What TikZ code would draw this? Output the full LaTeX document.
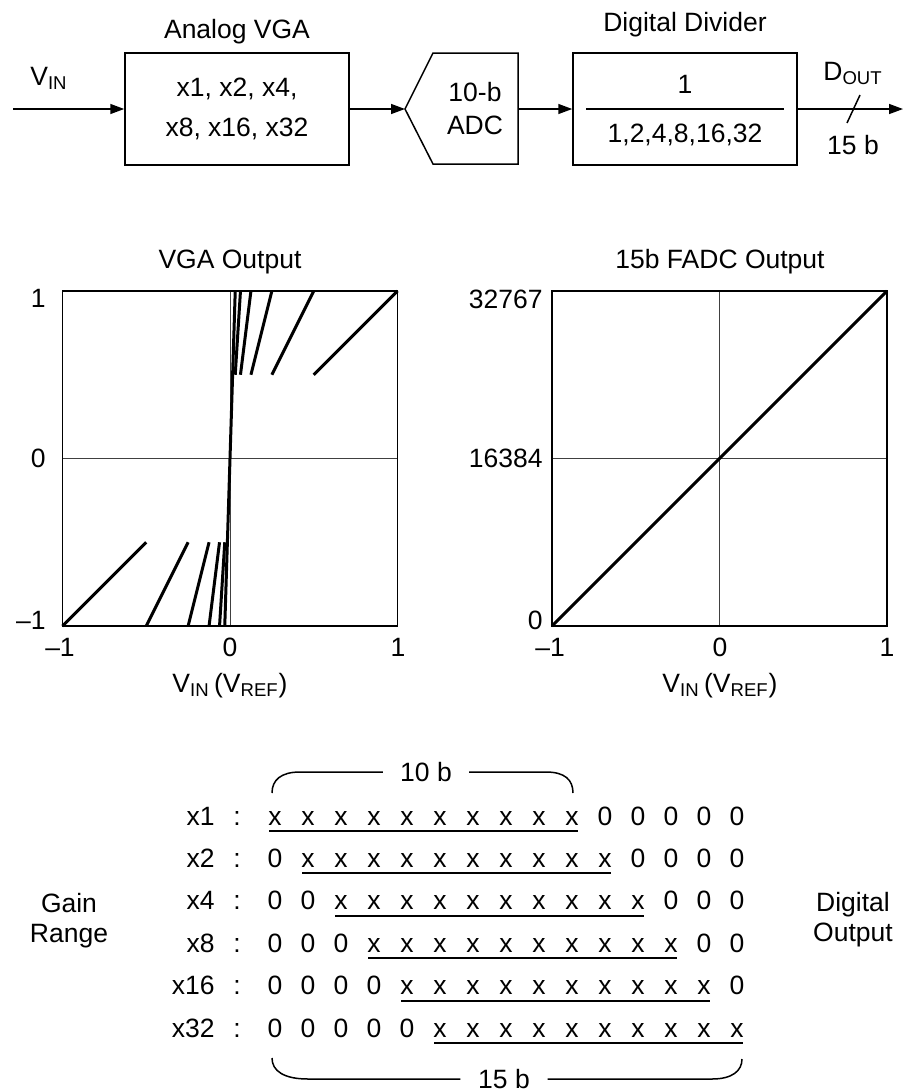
\documentclass[tikz,border=0pt]{standalone}
\usepackage{fontspec}
\setmainfont{Liberation Sans}
\usetikzlibrary{arrows.meta,calc}
\definecolor{GridClr}{rgb}{0.25,0.25,0.25}
\definecolor{TraceClr}{rgb}{0,0,0}

\begin{document}
\begin{tikzpicture}[x=0.5pt,y=-0.5pt,
  every node/.style={font=\fontsize{13.25}{18}\selectfont},
  blk/.style={draw,line width=0.75pt,minimum width=112pt,minimum height=56pt,align=center},
  sig/.style={line width=0.75pt,-{Triangle[length=7pt,width=5pt]}},
  frm/.style={line width=0.75pt},
  gridln/.style={line width=0.4pt,color=GridClr},
  gainln/.style={line width=1.5pt,color=TraceClr},
  tick/.style={inner sep=0pt},
  bit/.style={anchor=base,inner sep=0pt},
  uline/.style={line width=1pt},
  spanln/.style={line width=0.75pt}]
\useasboundingbox (0,0) rectangle (904,1092);

\coordinate (vin) at (13,109);
\coordinate (adcin) at (405,109);
\coordinate (adcout) at (518,109);
\coordinate (dout) at (903,109);

\node[blk,font=\fontsize{13.25}{20}\selectfont] (vga) at (237,109) {x1, x2, x4,\\x8, x16, x32};
\node[anchor=base] (vgat) at (237,39) {Analog VGA};
\node[anchor=base] (vinl) at (49,85) {V\textsubscript{IN}};

\draw[frm] (adcin) -- (433,53) -- (518,53) -- (518,164) -- (433,164) -- cycle;
\node[align=center,font=\fontsize{13.25}{16.5}\selectfont] (adc) at (475,109) {10-b\\ADC};

\node[blk] (div) at (685,109) {};
\node[anchor=base] (divt) at (685,32) {Digital Divider};
\node[anchor=base] (num) at (685,93) {1};
\node[anchor=base] (den) at (685,142) {1,2,4,8,16,32};
\draw[frm] ([xshift=7pt]div.west) -- ([xshift=-7pt]div.east);

\draw[sig] (vin) -- (vga);
\draw[sig] (vga) -- (adcin);
\draw[sig] (adcout) -- (div);
\draw[sig] (div) -- (dout);
\draw[frm] (860,95) -- (847,123);
\node[anchor=base] (doutl) at (853,80) {D\textsubscript{OUT}};
\node[anchor=base] (width) at (853,154) {15 b};

% VGA output
\begin{scope}[shift={(230,458.5)},x=83.75pt,y=83.75pt]
  \draw[gridln] (-1,0) -- (1,0) (0,-1) -- (0,1);
  \foreach \g in {1,2,4,8,16}{
    \draw[gainln] (0.5/\g,0.5) -- (1/\g,1);
    \draw[gainln] (-0.5/\g,-0.5) -- (-1/\g,-1);
  }
  \draw[gainln] (-1/32,-1) -- (1/32,1);
  \draw[frm] (-1,-1) rectangle (1,1);
\end{scope}
\node[anchor=base] (vgaot) at (230,268) {VGA Output};
\node[tick,anchor=east] (la1) at (46,298) {1};
\node[tick,anchor=east] (la0) at (46,458) {0};
\node[tick,anchor=east] (lam) at (46,620) {–1};
\node[tick] (lbm) at (60,647) {–1};
\node[tick] (lb0) at (230,647) {0};
\node[tick] (lb1) at (398,647) {1};
\node[anchor=base] (lxl) at (230,692) {V\textsubscript{IN}\,(V\textsubscript{REF})};

% FADC output
\begin{scope}[shift={(719.5,458.5)},x=83.75pt,y=83.75pt]
  \draw[gridln] (-1,0) -- (1,0) (0,-1) -- (0,1);
  \draw[gainln] (-1,-1) -- (1,1);
  \draw[frm] (-1,-1) rectangle (1,1);
\end{scope}
\node[anchor=base] (fadct) at (720,268) {15b FADC Output};
\node[tick,anchor=east] (ra1) at (543,299) {32767};
\node[tick,anchor=east] (ra0) at (543,458) {16384};
\node[tick,anchor=east] (ram) at (543,620) {0};
\node[tick] (rbm) at (550,647) {–1};
\node[tick] (rb0) at (720,647) {0};
\node[tick] (rb1) at (887,647) {1};
\node[anchor=base] (rxl) at (720,692) {V\textsubscript{IN}\,(V\textsubscript{REF})};

% bit map
\foreach \g [count=\r from 0] in {x1,x2,x4,x8,x16,x32}{
  \pgfmathsetmacro\yb{825+42.4*\r}
  \pgfmathtruncatemacro\e{\r+9}
  \node[bit,anchor=base east] (gain-\r) at (215,\yb) {\g};
  \node[bit] (colon-\r) at (237,\yb) {:};
  \foreach \c in {0,...,14}{
    \pgfmathtruncatemacro\isx{and(\c>=\r,\c<=\e)}
    \node[bit] (bit-\r-\c) at ({275+33*\c},\yb) {\ifnum\isx=1 x\else 0\fi};
  }
  \draw[uline] ([xshift=-3pt,yshift=-3pt]bit-\r-\r.base) -- ([xshift=3pt,yshift=-3pt]bit-\r-\e.base);
}

\node[inner xsep=8.5pt,inner ysep=0pt] (tenb) at (426,772) {10 b};
\draw[spanln] (tenb.west) -- (300,772) .. controls (281,772) and (272,780) .. (272,793);
\draw[spanln] (tenb.east) -- (546,772) .. controls (565,772) and (573,780) .. (573,793);

\node[inner xsep=8.75pt,inner ysep=0pt] (fifteenb) at (504,1079) {15 b};
\draw[spanln] (fifteenb.west) -- (308,1079) .. controls (284,1079) and (272,1071) .. (272,1058);
\draw[spanln] (fifteenb.east) -- (712,1079) .. controls (732,1079) and (742,1071) .. (742,1059);

\node[align=center,font=\fontsize{13.25}{15}\selectfont] (gainrng) at (69,921) {Gain\\Range};
\node[align=center,font=\fontsize{13.25}{15}\selectfont] (digout) at (853,920) {Digital\\Output};

\end{tikzpicture}
\end{document}
